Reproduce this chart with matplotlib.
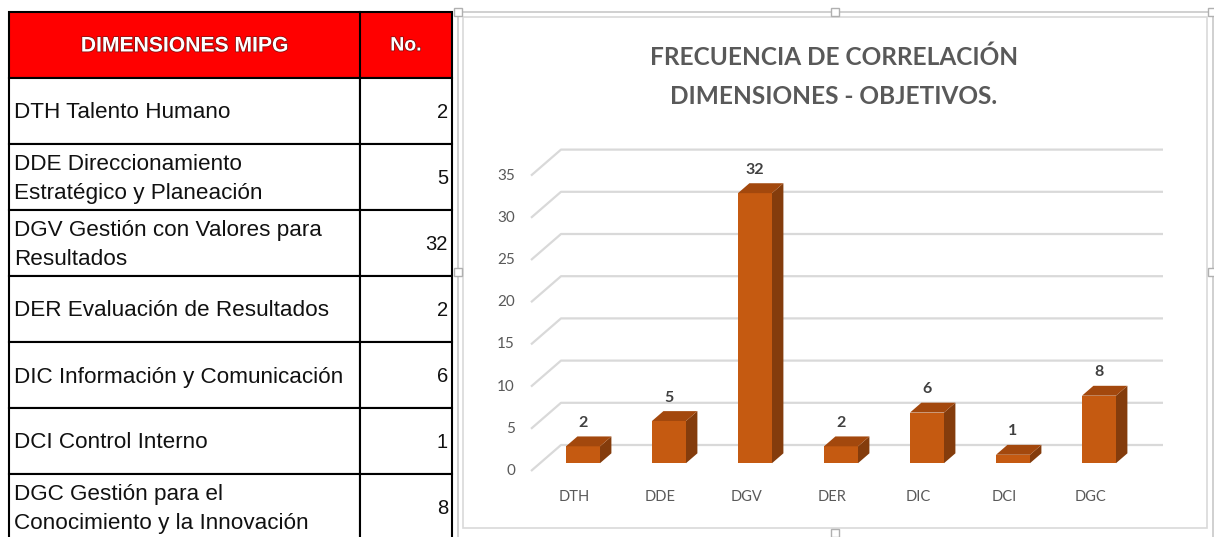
import matplotlib
matplotlib.use('Agg')
import matplotlib.pyplot as plt
from matplotlib.patches import Rectangle, Polygon
import matplotlib.patheffects as pe

# data
categories = ['DTH', 'DDE', 'DGV', 'DER', 'DIC', 'DCI', 'DGC']
values = [2, 5, 32, 2, 6, 1, 8]
dimensiones = ['DTH Talento Humano',
               'DDE Direccionamiento\nEstratégico y Planeación',
               'DGV Gestión con Valores para\nResultados',
               'DER Evaluación de Resultados',
               'DIC Información y Comunicación',
               'DCI Control Interno',
               'DGC Gestión para el\nConocimiento y la Innovación']
y_ticks = [0, 5, 10, 15, 20, 25, 30, 35]
title_lines = ['FRECUENCIA DE CORRELACIÓN', 'DIMENSIONES - OBJETIVOS.']

W, H = 1214, 537
fig = plt.figure(figsize=(W / 100, H / 100), dpi=100)

# overlay in pixel coordinates for table and frame
fx = fig.add_axes([0, 0, 1, 1])
fx.set_xlim(0, W)
fx.set_ylim(H, 0)
fx.axis('off')

# ---- table ----
tl, tm, tr = 9, 360, 452
top, row_h = 12, 66
fx.add_patch(Rectangle((tl, top), tr - tl, row_h, fc='#ff0000', ec='black', lw=1.5))
fx.plot([tm, tm], [top, top + row_h], color='black', lw=1.5)
hdr_fx = [pe.withStroke(linewidth=1.2, foreground='#8a1010')]
fx.text((tl + tm) / 2, top + row_h / 2 + 1, 'DIMENSIONES MIPG', ha='center', va='center',
        fontsize=15.2, weight='bold', color='white', family='Liberation Sans', path_effects=hdr_fx)
fx.text((tm + tr) / 2, top + row_h / 2 + 1, 'No.', ha='center', va='center',
        fontsize=14, weight='bold', color='white', family='Liberation Sans', path_effects=hdr_fx)

for i, (name, v) in enumerate(zip(dimensiones, values)):
    y0 = top + row_h * (i + 1)
    fx.add_patch(Rectangle((tl, y0), tm - tl, row_h, fc='white', ec='black', lw=1.5))
    fx.add_patch(Rectangle((tm, y0), tr - tm, row_h, fc='white', ec='black', lw=1.5))
    fx.text(tl + 5, y0 + row_h / 2 + 2, name, ha='left', va='center', fontsize=16.2,
            family='Liberation Sans', color='#111111', linespacing=1.45)
    fx.text(tr - 4, y0 + row_h / 2 + 1, str(v), ha='right', va='center', fontsize=14.5,
            family='Liberation Sans', color='#111111')

# ---- chart frame ----
fx.add_patch(Rectangle((458, 12), 755, 540, fc='none', ec='#c8c8c8', lw=1.2))
fx.add_patch(Rectangle((463, 17), 744, 511, fc='white', ec='#d9d9d9', lw=1.2))
for hx, hy in [(458, 12), (835, 12), (1212, 12), (458, 272), (1212, 272), (835, 533)]:
    fx.add_patch(Rectangle((hx - 4, hy - 4), 8, 8, fc='white', ec='#b0b0b0', lw=1, zorder=5))

for k, line in enumerate(title_lines):
    fx.text(834, 57 + 40 * k, line, ha='center', va='center', fontsize=17.6,
            weight='bold', color='#595959', family='Lato')

# ---- pseudo 3D bar chart ----
PX, PY = 86.0, 8.44          # px per category, px per unit
x0_px, y0_px = 574, 471      # front plane origin (px)
DX, DY = 30 / PX, 26 / PY    # depth offset in data units
l_px, r_px, t_px, b_px = 470, 1200, 140, 520
ax = fig.add_axes([l_px / W, (H - b_px) / H, (r_px - l_px) / W, (b_px - t_px) / H])
ax.set_xlim((l_px - x0_px) / PX, (r_px - x0_px) / PX)
ax.set_ylim((y0_px - b_px) / PY, (y0_px - t_px) / PY)
ax.axis('off')
ax.patch.set_alpha(0)

n = len(categories)
for t in y_ticks:
    ax.plot([-0.5, -0.5 + DX, n - 0.5 + DX], [t, t + DY, t + DY],
            color='#d9d9d9', lw=1.6, zorder=1, solid_capstyle='butt')
    ax.text((515 - x0_px) / PX, t, str(t), ha='right', va='center',
            fontsize=11, color='#595959', family='Lato')

z0, z1 = 0.3, 0.68
hw = 17 / PX
c_front, c_top, c_side = '#c55a11', '#a3480d', '#843c0c'
xs = [i + z0 * DX for i in range(n)]
ax.bar(xs, values, width=2 * hw, bottom=z0 * DY, color=c_front, zorder=3)
for i, v in enumerate(values):
    xr0, xr1 = i + hw + z0 * DX, i + hw + z1 * DX
    ax.add_patch(Polygon([(xr0, z0 * DY), (xr1, z1 * DY), (xr1, v + z1 * DY), (xr0, v + z0 * DY)],
                         closed=True, fc=c_side, ec='none', zorder=3))
    ax.add_patch(Polygon([(i - hw + z0 * DX, v + z0 * DY), (xr0, v + z0 * DY),
                          (xr1, v + z1 * DY), (i - hw + z1 * DX, v + z1 * DY)],
                         closed=True, fc=c_top, ec='none', zorder=3))
    ax.text(i + z0 * DX, v + 3.7, str(v), ha='center', va='center', fontsize=11.5,
            weight='bold', color='#404040', family='Lato')
    ax.text(i, (y0_px - 497) / PY, categories[i], ha='center', va='center',
            fontsize=10.5, color='#595959', family='Lato')

plt.savefig('out.png', dpi=100)
